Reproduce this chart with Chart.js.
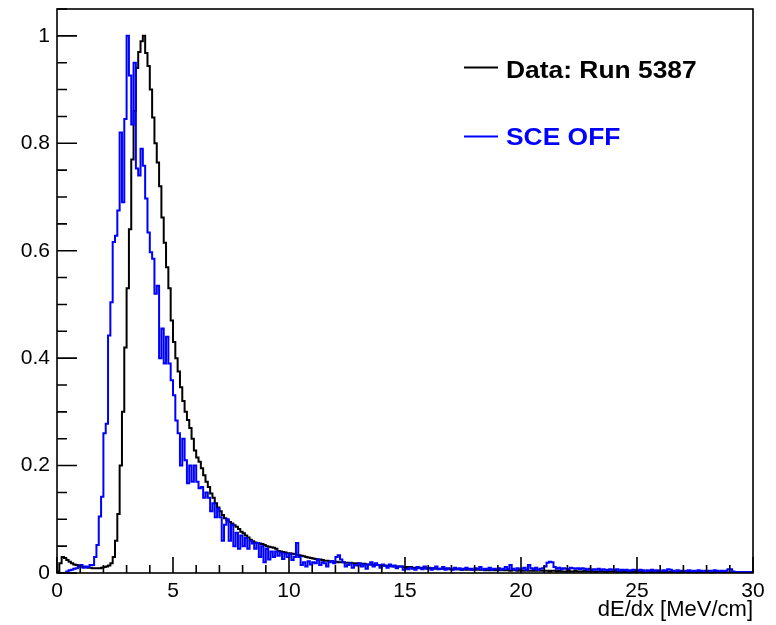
<!DOCTYPE html>
<html><head><meta charset="utf-8">
<script src="https://cdn.jsdelivr.net/npm/chart.js@4.4.1/dist/chart.umd.min.js"></script>
<style>html,body{margin:0;padding:0;background:#fff;}canvas{display:block;}</style>
</head><body>
<canvas id="c" width="776" height="625"></canvas>
<script>
// ---- data (histograms, bin width 0.1 MeV/cm, 0..30) ----
const binWidth = 0.1;
const xRange = [0, 30];
const yRange = [0, 1.05];
const xTickValues = [0, 5, 10, 15, 20, 25, 30];
const xTickLabels = ['0', '5', '10', '15', '20', '25', '30'];
const yTickValues = [0, 0.2, 0.4, 0.6, 0.8, 1];
const yTickLabels = ['0', '0.2', '0.4', '0.6', '0.8', '1'];
const seriesNames = ['Data: Run 5387', 'SCE OFF'];
const seriesColors = ['#000000', '#0000ff'];
const xAxisTitle = 'dE/dx [MeV/cm]';

const dataRun5387 = [
0.000,0.003,0.018,0.030,0.028,0.024,0.021,0.018,0.016,0.015,
0.013,0.012,0.011,0.011,0.010,0.010,0.009,0.009,0.009,0.009,
0.010,0.011,0.012,0.014,0.018,0.030,0.060,0.110,0.200,0.300,
0.420,0.530,0.640,0.770,0.860,0.940,0.970,0.990,1.000,0.968,
0.944,0.900,0.848,0.800,0.764,0.720,0.662,0.615,0.569,0.530,
0.470,0.430,0.400,0.375,0.346,0.320,0.300,0.285,0.270,0.250,
0.228,0.215,0.207,0.195,0.182,0.170,0.160,0.148,0.140,0.130,
0.122,0.115,0.108,0.102,0.098,0.095,0.092,0.089,0.086,0.082,
0.077,0.074,0.070,0.066,0.062,0.059,0.057,0.056,0.055,0.054,
0.052,0.050,0.049,0.048,0.047,0.045,0.041,0.040,0.039,0.038,
0.037,0.037,0.036,0.035,0.034,0.033,0.032,0.031,0.030,0.029,
0.028,0.027,0.026,0.025,0.025,0.024,0.023,0.023,0.022,0.022,
0.021,0.021,0.020,0.020,0.020,0.019,0.019,0.019,0.018,0.018,
0.018,0.017,0.017,0.017,0.016,0.016,0.016,0.015,0.015,0.015,
0.014,0.014,0.014,0.013,0.013,0.013,0.012,0.012,0.012,0.012,
0.011,0.011,0.011,0.011,0.010,0.010,0.010,0.010,0.010,0.009,
0.009,0.009,0.009,0.009,0.008,0.008,0.008,0.008,0.008,0.008,
0.007,0.007,0.008,0.007,0.007,0.006,0.007,0.006,0.007,0.006,
0.006,0.006,0.007,0.006,0.006,0.005,0.006,0.005,0.006,0.005,
0.005,0.005,0.006,0.005,0.005,0.005,0.004,0.005,0.005,0.004,
0.005,0.004,0.004,0.005,0.004,0.004,0.004,0.004,0.005,0.004,
0.004,0.004,0.004,0.003,0.004,0.004,0.003,0.004,0.003,0.003,
0.003,0.004,0.003,0.003,0.004,0.003,0.003,0.003,0.004,0.003,
0.003,0.003,0.003,0.002,0.003,0.003,0.003,0.002,0.003,0.003,
0.003,0.002,0.003,0.002,0.003,0.002,0.002,0.003,0.002,0.002,
0.002,0.002,0.003,0.002,0.002,0.002,0.002,0.003,0.002,0.002,
0.002,0.002,0.002,0.002,0.001,0.002,0.002,0.002,0.001,0.002,
0.002,0.001,0.002,0.002,0.001,0.002,0.001,0.002,0.001,0.002,
0.001,0.002,0.001,0.001,0.002,0.001,0.001,0.002,0.001,0.001,
0.001,0.001,0.002,0.001,0.001,0.001,0.001,0.001,0.001,0.001
];

const sceOff = [
0.000,0.000,0.000,0.000,0.000,0.003,0.005,0.006,0.008,0.009,
0.012,0.015,0.010,0.012,0.011,0.015,0.015,0.030,0.052,0.105,
0.142,0.260,0.278,0.442,0.504,0.616,0.628,0.675,0.820,0.690,
0.845,1.000,0.926,0.835,0.950,0.753,0.740,0.790,0.758,0.697,
0.634,0.597,0.585,0.520,0.535,0.400,0.455,0.390,0.440,0.390,
0.359,0.331,0.284,0.260,0.200,0.250,0.210,0.167,0.200,0.170,
0.200,0.170,0.158,0.160,0.140,0.150,0.140,0.115,0.130,0.104,
0.120,0.104,0.060,0.090,0.100,0.060,0.090,0.050,0.075,0.045,
0.070,0.050,0.065,0.045,0.060,0.055,0.045,0.056,0.030,0.050,
0.020,0.045,0.025,0.040,0.030,0.040,0.032,0.038,0.026,0.036,
0.030,0.035,0.024,0.030,0.056,0.030,0.015,0.020,0.012,0.022,
0.016,0.020,0.018,0.025,0.015,0.020,0.018,0.012,0.020,0.022,
0.018,0.030,0.033,0.025,0.020,0.012,0.015,0.018,0.010,0.015,
0.014,0.018,0.012,0.016,0.008,0.016,0.020,0.012,0.018,0.015,
0.010,0.016,0.013,0.010,0.016,0.012,0.014,0.009,0.012,0.012,
0.006,0.008,0.007,0.010,0.008,0.006,0.011,0.009,0.007,0.012,
0.008,0.010,0.006,0.009,0.012,0.007,0.008,0.011,0.006,0.009,
0.008,0.006,0.010,0.007,0.009,0.006,0.008,0.010,0.007,0.008,
0.006,0.009,0.007,0.011,0.006,0.008,0.007,0.010,0.006,0.008,
0.007,0.009,0.006,0.008,0.011,0.007,0.015,0.008,0.006,0.009,
0.007,0.008,0.010,0.006,0.015,0.009,0.007,0.010,0.006,0.008,
0.009,0.012,0.019,0.021,0.020,0.011,0.008,0.010,0.007,0.009,
0.008,0.007,0.010,0.009,0.008,0.009,0.007,0.009,0.008,0.006,
0.008,0.005,0.007,0.006,0.008,0.005,0.007,0.006,0.005,0.007,
0.006,0.005,0.007,0.004,0.006,0.005,0.006,0.004,0.005,0.006,
0.005,0.004,0.006,0.005,0.003,0.005,0.004,0.006,0.004,0.005,
0.004,0.003,0.005,0.004,0.007,0.006,0.004,0.003,0.005,0.004,
0.004,0.003,0.004,0.005,0.003,0.004,0.003,0.005,0.004,0.003,
0.004,0.003,0.004,0.003,0.005,0.004,0.003,0.004,0.003,0.004,
0.007,0.007,0.003,0.002,0.002,0.002,0.002,0.002,0.002,0.002
];

// ---- build step points (bin low edges + closing edge) ----
function histPoints(vals) {
  const pts = vals.map((v, i) => ({ x: xRange[0] + i * binWidth, y: v }));
  pts.push({ x: xRange[0] + vals.length * binWidth, y: vals[vals.length - 1] });
  return pts;
}

const FONT = "'Liberation Sans', Arial, Helvetica, sans-serif";

// frame + inward ROOT-style ticks
const framePlugin = {
  id: 'rootFrame',
  afterDatasetsDraw(chart) {
    const { ctx, chartArea: a, scales: { x, y } } = chart;
    ctx.save();
    ctx.strokeStyle = '#000';
    ctx.lineWidth = 1.6;
    ctx.strokeRect(a.left, a.top, a.right - a.left, a.bottom - a.top);
    ctx.beginPath();
    for (let v = xRange[0]; v <= xRange[1] + 1e-9; v += 1) {
      const px = x.getPixelForValue(v);
      const major = Math.abs(v % 5) < 1e-9;
      ctx.moveTo(px, a.bottom);
      ctx.lineTo(px, a.bottom - (major ? 16 : 8));
    }
    for (let k = 0; k * 0.05 <= yRange[1] + 1e-9; k++) {
      const v = k * 0.05;
      const py = y.getPixelForValue(v);
      const major = k % 4 === 0;
      ctx.moveTo(a.left, py);
      ctx.lineTo(a.left + (major ? 20 : 10), py);
    }
    ctx.stroke();
    ctx.restore();
  }
};

// legend drawn inside the frame (ROOT TLegend style)
const legendPlugin = {
  id: 'rootLegend',
  afterDraw(chart) {
    const ctx = chart.ctx;
    const rows = [
      { ds: chart.data.datasets[1], lineY: 67.5, baseY: 77.5 },
      { ds: chart.data.datasets[0], lineY: 136.5, baseY: 144.5 }
    ];
    ctx.save();
    rows.forEach(r => {
      ctx.strokeStyle = r.ds.borderColor;
      ctx.lineWidth = 2;
      ctx.beginPath();
      ctx.moveTo(464, r.lineY);
      ctx.lineTo(498, r.lineY);
      ctx.stroke();
      ctx.save();
      ctx.translate(506, r.baseY);
      ctx.scale(1.1, 1);
      ctx.fillStyle = r.ds.borderColor;
      ctx.font = 'bold 24px ' + FONT;
      ctx.textBaseline = 'alphabetic';
      ctx.textAlign = 'left';
      ctx.fillText(r.ds.label, 0, 0);
      ctx.restore();
    });
    ctx.restore();
  }
};

function noAutoPadding(s) {
  s.paddingTop = 0; s.paddingBottom = 0; s.paddingLeft = 0; s.paddingRight = 0;
}

new Chart(document.getElementById('c'), {
  type: 'line',
  data: {
    datasets: [
      { label: seriesNames[1], data: histPoints(sceOff), borderColor: seriesColors[1],
        borderWidth: 2, stepped: 'after', pointRadius: 0, fill: false, order: 1 },
      { label: seriesNames[0], data: histPoints(dataRun5387), borderColor: seriesColors[0],
        borderWidth: 2, stepped: 'after', pointRadius: 0, fill: false, order: 2 }
    ]
  },
  options: {
    responsive: false,
    animation: false,
    layout: { padding: { left: 0, right: 23, top: 9, bottom: 0 } },
    plugins: { legend: { display: false }, tooltip: { enabled: false } },
    scales: {
      x: {
        type: 'linear', min: xRange[0], max: xRange[1],
        grid: { display: false, drawTicks: false }, border: { display: false },
        afterBuildTicks: s => { s.ticks = xTickValues.map(v => ({ value: v })); },
        ticks: {
          color: '#000', padding: 6, maxRotation: 0, autoSkip: false,
          font: { family: FONT, size: 21 },
          callback: v => xTickLabels[xTickValues.indexOf(v)]
        },
        title: { display: true, text: xAxisTitle, align: 'end', color: '#000',
                 font: { family: FONT, size: 22 }, padding: { top: 0, bottom: 2 } },
        afterFit: s => { s.height = 52; noAutoPadding(s); }
      },
      y: {
        type: 'linear', min: yRange[0], max: yRange[1],
        grid: { display: false, drawTicks: false }, border: { display: false },
        afterBuildTicks: s => { s.ticks = yTickValues.map(v => ({ value: v })); },
        ticks: {
          color: '#000', padding: 7, autoSkip: false,
          font: { family: FONT, size: 21 },
          callback: v => yTickLabels[yTickValues.indexOf(v)]
        },
        afterFit: s => { s.width = 57; noAutoPadding(s); }
      }
    }
  },
  plugins: [framePlugin, legendPlugin]
});
</script>
</body></html>
